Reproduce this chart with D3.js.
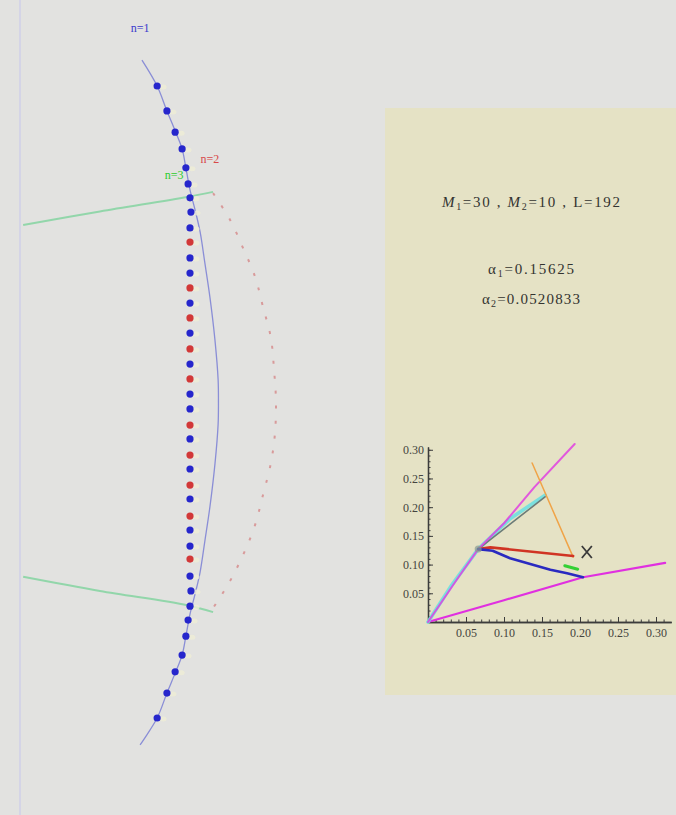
<!DOCTYPE html>
<html>
<head>
<meta charset="utf-8">
<script src="https://cdn.jsdelivr.net/npm/d3@7"></script>
<style>
  body { margin: 0; background: #e2e2e0; }
  svg { display: block; }
</style>
</head>
<body>
<svg id="chart" width="676" height="815"></svg>
<script>
// ---------- Left figure: mode positions along the cavity ----------
// Sample points (x, y) in normalised units, top to bottom
const sampleX = [-0.104, -0.073, -0.047, -0.025, -0.013, -0.006, 0.000, 0.003, 0.000,
  0, 0, 0, 0, 0, 0, 0, 0, 0, 0, 0, 0, 0, 0, 0, 0, 0, 0, 0, 0, 0, 0,
  0.000, 0.003, 0.000, -0.006, -0.013, -0.025, -0.047, -0.073, -0.104];
const sampleY = [1.000, 0.921, 0.854, 0.801, 0.741, 0.690, 0.646, 0.601, 0.551,
  0.506, 0.456, 0.408, 0.361, 0.313, 0.266, 0.218, 0.168, 0.120, 0.073, 0.025,
  -0.022, -0.073, -0.117, -0.168, -0.212, -0.263, -0.307, -0.361, -0.405, -0.456, -0.497,
  -0.551, -0.598, -0.646, -0.690, -0.741, -0.801, -0.854, -0.921, -1.000];
// Which family each sample belongs to (1 = n=1, 2 = n=2)
const sampleMode = [1, 1, 1, 1, 1, 1, 1, 1, 1,
  2, 1, 1, 2, 1, 2, 1, 2, 1, 2, 1,
  1, 2, 1, 2, 1, 2, 1, 2, 1, 1, 2,
  1, 1, 1, 1, 1, 1, 1, 1, 1];

// n=1 curve
const mode1X = [-0.152, -0.104, -0.073, -0.047, -0.025, -0.013, 0.000, 0.016, 0.032, 0.047, 0.063, 0.079, 0.089, 0.090,
  0.089, 0.079, 0.063, 0.047, 0.032, 0.016, 0.000, -0.013, -0.025, -0.047, -0.073, -0.104, -0.158];
const mode1Y = [1.082, 1.000, 0.921, 0.858, 0.801, 0.741, 0.671, 0.608, 0.538, 0.440, 0.332, 0.196, 0.070, 0.000,
  -0.070, -0.196, -0.332, -0.440, -0.538, -0.608, -0.671, -0.741, -0.801, -0.858, -0.921, -1.000, -1.085];

// n=2 curve (dotted)
const mode2X = [0.073, 0.127, 0.168, 0.206, 0.231, 0.256, 0.266, 0.272, 0.269, 0.256, 0.231, 0.206, 0.168, 0.123, 0.073];
const mode2Y = [0.661, 0.576, 0.487, 0.396, 0.301, 0.203, 0.101, 0.006, -0.098, -0.193, -0.294, -0.389, -0.484, -0.573, -0.652];

// n=3 branches
const mode3TopX = [-0.528, -0.285, -0.009, 0.073];
const mode3TopY = [0.560, 0.603, 0.649, 0.665];
const mode3BotX = [-0.528, -0.285, -0.009, 0.073];
const mode3BotY = [-0.553, -0.598, -0.643, -0.665];

const modeLabels = ["n=1", "n=2", "n=3"];
const modeLabelX = [-0.158, 0.063, -0.05];
const modeLabelY = [1.17, 0.755, 0.705];

// ---------- Right panel: parameters ----------
const M1 = 30, M2 = 10, L = 192;
const alpha1 = "0.15625", alpha2 = "0.0520833";

// ---------- Inset plot ----------
const insetXTicks = [0.05, 0.10, 0.15, 0.20, 0.25, 0.30];
const insetYTicks = [0.05, 0.10, 0.15, 0.20, 0.25, 0.30];
const magentaUpX = [0, 0.04, 0.066, 0.10, 0.14, 0.193];
const magentaUpY = [0, 0.078, 0.127, 0.172, 0.235, 0.310];
const magentaLowX = [0, 0.10, 0.204, 0.312];
const magentaLowY = [0, 0.038, 0.078, 0.103];
const cyanX = [0, 0.03, 0.066, 0.108, 0.154];
const cyanY = [0, 0.062, 0.127, 0.180, 0.221];
const grayX = [0.066, 0.154];
const grayY = [0.127, 0.218];
const redX = [0.066, 0.082, 0.191];
const redY = [0.127, 0.130, 0.115];
const blueX = [0.066, 0.085, 0.108, 0.161, 0.183, 0.204];
const blueY = [0.127, 0.124, 0.111, 0.091, 0.085, 0.078];
const greenX = [0.180, 0.197];
const greenY = [0.098, 0.092];
const orangeX = [0.137, 0.191];
const orangeY = [0.277, 0.113];
const markX = 0.209, markY = 0.122;

const svg = d3.select("#chart");
const W = 676, H = 815;
const serif = "'Liberation Serif', 'Times New Roman', serif";

// background
svg.append("rect").attr("width", W).attr("height", H).attr("fill", "#e2e2e0");

// ---------- left figure ----------
const lx = d3.scaleLinear().domain([-0.6, 0.6]).range([0.4, 379.6]);
const ly = d3.scaleLinear().domain([-1.1, 1.1]).range([749.6, 54.4]);

// frame line on the far left
svg.append("line")
  .attr("x1", lx(-0.538)).attr("x2", lx(-0.538))
  .attr("y1", 0).attr("y2", H)
  .attr("stroke", "#d4d4e6").attr("stroke-width", 2);

const curve = d3.line().curve(d3.curveCatmullRom.alpha(0.5));
const zipPts = (xs, ys, sx, sy) => xs.map((v, i) => [sx(v), sy(ys[i])]);

// n=3 branches
[[mode3TopX, mode3TopY], [mode3BotX, mode3BotY]].forEach(([xs, ys]) => {
  svg.append("path")
    .attr("d", curve(zipPts(xs, ys, lx, ly)))
    .attr("fill", "none").attr("stroke", "#92d6aa").attr("stroke-width", 2);
});

// n=2 dotted curve
svg.append("path")
  .attr("d", curve(zipPts(mode2X, mode2Y, lx, ly)))
  .attr("fill", "none").attr("stroke", "#d89a9a").attr("stroke-width", 2)
  .attr("stroke-dasharray", "3,12");

// n=1 curve
svg.append("path")
  .attr("d", curve(zipPts(mode1X, mode1Y, lx, ly)))
  .attr("fill", "none").attr("stroke", "#8a8ed6").attr("stroke-width", 1.3);

// sample points with a pale fringe
const samples = sampleX.map((v, i) => ({ x: v, y: sampleY[i], m: sampleMode[i] }));
svg.append("g").selectAll("ellipse").data(samples).join("ellipse")
  .attr("cx", d => lx(d.x) + 6).attr("cy", d => ly(d.y) + 1)
  .attr("rx", 3.5).attr("ry", 2.5)
  .attr("fill", "#efeed6").attr("opacity", 0.8);
svg.append("g").selectAll("circle").data(samples).join("circle")
  .attr("cx", d => lx(d.x)).attr("cy", d => ly(d.y))
  .attr("r", 3.6)
  .attr("fill", d => d.m === 1 ? "#2626cc" : "#d23838");

// mode labels
const labelColors = ["#3a3acc", "#d84848", "#2ccc2c"];
modeLabels.forEach((t, i) => {
  svg.append("text")
    .attr("x", lx(modeLabelX[i])).attr("y", ly(modeLabelY[i]))
    .attr("text-anchor", "middle")
    .attr("font-family", serif)
    .attr("font-size", 12)
    .attr("fill", labelColors[i])
    .text(t);
});

// ---------- right panel ----------
const panel = { x: 385, y: 108, w: 291, h: 587 };
svg.append("rect")
  .attr("x", panel.x).attr("y", panel.y)
  .attr("width", panel.w).attr("height", panel.h)
  .attr("fill", "#e5e2c5");

const cx = 531;

const t1 = svg.append("text")
  .attr("x", cx).attr("y", 207).attr("text-anchor", "middle")
  .attr("font-family", serif).attr("font-size", 15).attr("fill", "#333330")
  .attr("textLength", 178).attr("lengthAdjust", "spacing");
t1.append("tspan").attr("font-style", "italic").text("M");
t1.append("tspan").attr("font-size", 10).attr("dy", 3).text("1");
t1.append("tspan").attr("dy", -3).text("=" + M1 + " , ");
t1.append("tspan").attr("font-style", "italic").text("M");
t1.append("tspan").attr("font-size", 10).attr("dy", 3).text("2");
t1.append("tspan").attr("dy", -3).text("=" + M2 + " , L=" + L);

function alphaLine(y, sub, val, len) {
  const t = svg.append("text")
    .attr("x", cx).attr("y", y).attr("text-anchor", "middle")
    .attr("font-family", serif).attr("font-size", 15).attr("fill", "#333330")
    .attr("textLength", len).attr("lengthAdjust", "spacing");
  t.append("tspan").text("α");
  t.append("tspan").attr("font-size", 10).attr("dy", 3).text(sub);
  t.append("tspan").attr("dy", -3).text("=" + val);
}
alphaLine(274, "1", alpha1, 86);
alphaLine(304, "2", alpha2, 98);

// ---------- inset plot ----------
const ix = d3.scaleLinear().domain([0, 0.32]).range([428, 671.2]);
const iy = d3.scaleLinear().domain([0, 0.305]).range([622, 446.9]);

const axisColor = "#3c3c3c";
const gx = svg.append("g").attr("transform", `translate(0,${iy(0)})`);
gx.call(d3.axisBottom(ix).tickValues(d3.range(0.01, 0.32, 0.01)).tickSize(-2.5).tickSizeOuter(0).tickFormat(""));
gx.call(g => g.selectAll("text").remove());
const gx2 = svg.append("g").attr("transform", `translate(0,${iy(0)})`);
gx2.call(d3.axisBottom(ix).tickValues(insetXTicks).tickSize(-5).tickSizeOuter(0).tickPadding(6).tickFormat(d3.format(".2f")));

const gy = svg.append("g").attr("transform", `translate(${ix(0)},0)`);
gy.call(d3.axisLeft(iy).tickValues(d3.range(0.01, 0.305, 0.01)).tickSize(-2.5).tickSizeOuter(0).tickFormat(""));
const gy2 = svg.append("g").attr("transform", `translate(${ix(0)},0)`);
gy2.call(d3.axisLeft(iy).tickValues(insetYTicks).tickSize(-5).tickSizeOuter(0).tickPadding(4).tickFormat(d3.format(".2f")));

[gx, gx2, gy, gy2].forEach(g => {
  g.selectAll("path.domain").attr("stroke", axisColor).attr("stroke-width", 1.3);
  g.selectAll("line").attr("stroke", axisColor);
  g.selectAll("text").attr("font-family", serif).attr("font-size", 12).attr("fill", "#44443e");
});

const lin = d3.line();
const series = [
  { xs: magentaLowX, ys: magentaLowY, c: "#e030e0", w: 2.2, o: 1 },
  { xs: cyanX, ys: cyanY, c: "#6ee0e0", w: 3.6, o: 0.9 },
  { xs: grayX, ys: grayY, c: "#6c7c78", w: 1.6, o: 1 },
  { xs: magentaUpX, ys: magentaUpY, c: "#e040e0", w: 2, o: 0.85 },
  { xs: orangeX, ys: orangeY, c: "#f0a448", w: 1.5, o: 1 },
  { xs: redX, ys: redY, c: "#d03424", w: 2.6, o: 1 },
  { xs: blueX, ys: blueY, c: "#2a2ac0", w: 2.6, o: 1 },
  { xs: greenX, ys: greenY, c: "#34d034", w: 3, o: 1 }
];
series.forEach(s => {
  svg.append("path")
    .attr("d", lin(zipPts(s.xs, s.ys, ix, iy)))
    .attr("fill", "none").attr("stroke", s.c)
    .attr("stroke-width", s.w).attr("stroke-opacity", s.o)
    .attr("stroke-linecap", "round").attr("stroke-linejoin", "round");
});

// junction marker
svg.append("circle").attr("cx", ix(0.066)).attr("cy", iy(0.127)).attr("r", 3.5)
  .attr("fill", "#8a9a92").attr("opacity", 0.7);

// cross marker
const mx = ix(markX), my = iy(markY);
svg.append("path")
  .attr("d", `M${mx - 5},${my - 6}L${mx + 5},${my + 6}M${mx + 5},${my - 6}L${mx - 5},${my + 6}`)
  .attr("stroke", "#3a3a3a").attr("stroke-width", 1.8).attr("fill", "none");
</script>
</body>
</html>
